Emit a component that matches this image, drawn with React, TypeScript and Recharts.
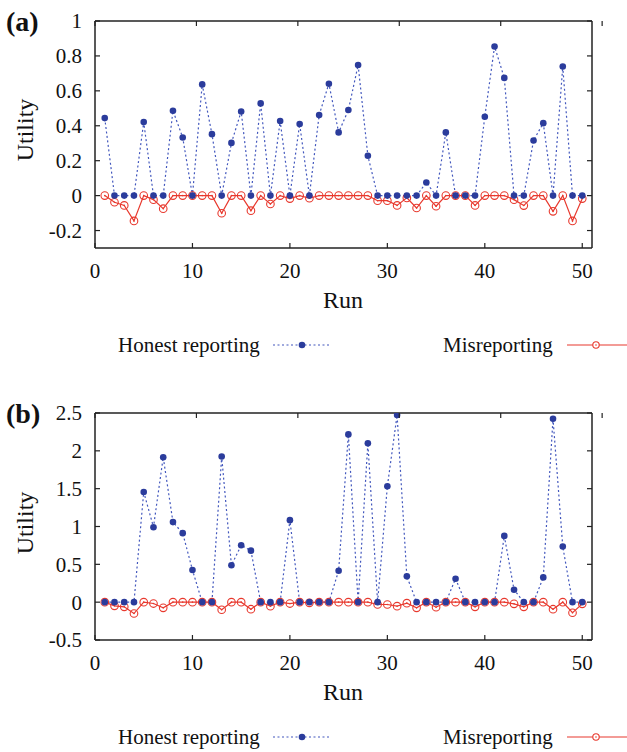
import { LineChart, Line, XAxis, YAxis } from 'recharts'

const runs = Array.from({ length: 50 }, (_, i) => i + 1)

const honestA = [
  0.444, 0, 0, 0, 0.421, 0, 0, 0.486, 0.333, 0, 0.637, 0.352, 0, 0.302, 0.482, 0,
  0.528, 0, 0.427, 0, 0.41, 0, 0.461, 0.641, 0.362, 0.49, 0.748, 0.228, 0, 0, 0,
  0, 0, 0.075, 0, 0.362, 0, 0, 0, 0.452, 0.854, 0.674, 0, 0, 0.316, 0.415, 0,
  0.739, 0, 0,
]
const misA = [
  0, -0.038, -0.056, -0.145, 0, -0.023, -0.075, 0, 0, 0, 0, 0, -0.101, 0, 0,
  -0.086, 0, -0.048, 0, -0.017, 0, -0.015, 0, 0, 0, 0, 0, 0, -0.029, -0.029,
  -0.056, -0.013, -0.071, 0, -0.061, 0, 0, 0, -0.056, 0, 0, 0, -0.023, -0.057,
  0, 0, -0.09, 0, -0.145, -0.017,
]
const honestB = [
  0, 0, 0, 0, 1.456, 0.991, 1.916, 1.058, 0.912, 0.425, 0, 0, 1.925, 0.487,
  0.752, 0.681, 0, 0, 0, 1.084, 0, 0, 0, 0, 0.416, 2.217, 0, 2.1, 0, 1.531,
  2.473, 0.341, 0, 0, 0, 0, 0.31, 0, 0, 0, 0, 0.876, 0.164, 0, 0, 0.327, 2.425,
  0.735, 0, 0,
]
const misB = [
  0, -0.049, -0.062, -0.15, 0, -0.018, -0.075, 0, 0, 0, 0, 0, -0.1, 0, 0,
  -0.093, 0, -0.053, 0, -0.018, 0, -0.009, 0, 0, 0, 0, 0, 0, -0.031, -0.031,
  -0.053, -0.013, -0.075, 0, -0.066, 0, 0, 0, -0.062, 0, 0, 0, -0.022, -0.062,
  0, 0, -0.093, 0, -0.14, -0.022,
]

const xTicks = [0, 10, 20, 30, 40, 50]
const yTicksA = [-0.2, 0, 0.2, 0.4, 0.6, 0.8, 1]
const yTicksB = [-0.5, 0, 0.5, 1, 1.5, 2, 2.5]

const FONT = '"Liberation Serif", "Times New Roman", serif'
const FRAME = '#222'
const BLUE_LINE = '#4257bd'
const BLUE_DOT = '#2b3c9c'
const RED = '#e8392e'

const W = 627
const H = 360
// each axis takes 1px, so the plot box is x 95..592, y 21..248
const M = { top: 20, left: 94, right: 34, bottom: 111 }

const BottomTick = ({ x, y, payload }: any) => (
  <g>
    <line x1={x} x2={x} y1={y} y2={y - 5} stroke={FRAME} strokeWidth={1.2} />
    <text x={x} y={y + 23} dy="0.35em" textAnchor="middle" fontFamily={FONT} fontSize={21} fill="#111">
      {payload.value}
    </text>
  </g>
)
const TopTick = ({ x, y }: any) => (
  <line x1={x} x2={x} y1={y} y2={y + 5} stroke={FRAME} strokeWidth={1.2} />
)
const LeftTick = ({ x, y, payload }: any) => (
  <g>
    <line x1={x} x2={x + 5} y1={y} y2={y} stroke={FRAME} strokeWidth={1.2} />
    <text x={x - 13} y={y} dy="0.35em" textAnchor="end" fontFamily={FONT} fontSize={21} fill="#111">
      {payload.value}
    </text>
  </g>
)
const RightTick = ({ x, y }: any) => (
  <line x1={x} x2={x - 5} y1={y} y2={y} stroke={FRAME} strokeWidth={1.2} />
)

const RedDot = ({ cx, cy }: any) => (
  <g>
    <circle cx={cx} cy={cy} r={3.8} fill="none" stroke={RED} strokeWidth={1.1} />
    <circle cx={cx} cy={cy} r={0.8} fill={RED} />
  </g>
)

function Panel({ tag, honest, mis, yDomain, yTicks, utilityY }: any) {
  const data = runs.map((run, i) => ({ run, honest: honest[i], mis: mis[i] }))
  return (
    <div style={{ position: 'relative', width: W, height: H }}>
      <LineChart width={W} height={H} data={data} margin={M}>
        <XAxis
          dataKey="run"
          type="number"
          domain={[0, 51]}
          allowDataOverflow
          ticks={xTicks}
          height={1}
          tickSize={0}
          tickMargin={0}
          tickLine={false}
          tick={<BottomTick />}
          axisLine={{ stroke: FRAME, strokeWidth: 1.5 }}
        />
        <XAxis
          xAxisId="top"
          orientation="top"
          type="number"
          domain={[0, 51]}
          allowDataOverflow
          ticks={xTicks}
          height={1}
          tickSize={0}
          tickMargin={0}
          tickLine={false}
          tick={<TopTick />}
          axisLine={{ stroke: FRAME, strokeWidth: 1.5 }}
        />
        <YAxis
          type="number"
          domain={yDomain}
          allowDataOverflow
          ticks={yTicks}
          width={1}
          tickSize={0}
          tickMargin={0}
          tickLine={false}
          tick={<LeftTick />}
          axisLine={{ stroke: FRAME, strokeWidth: 1.5 }}
        />
        <YAxis
          yAxisId="right"
          orientation="right"
          type="number"
          domain={yDomain}
          allowDataOverflow
          ticks={yTicks}
          width={1}
          tickSize={0}
          tickMargin={0}
          tickLine={false}
          tick={<RightTick />}
          axisLine={{ stroke: FRAME, strokeWidth: 1.5 }}
        />
        <Line
          type="linear"
          dataKey="mis"
          name="Misreporting"
          stroke={RED}
          strokeWidth={1.2}
          dot={<RedDot />}
          isAnimationActive={false}
        />
        <Line
          type="linear"
          dataKey="honest"
          name="Honest reporting"
          stroke={BLUE_LINE}
          strokeWidth={1.2}
          strokeDasharray="2 2.5"
          dot={{ r: 3.3, fill: BLUE_DOT, stroke: 'none' }}
          isAnimationActive={false}
        />
      </LineChart>
      <svg
        width={W}
        height={H}
        style={{ position: 'absolute', left: 0, top: 0, pointerEvents: 'none' }}
      >
        <text x={6} y={21} dy="0.35em" fontFamily={FONT} fontSize={28} fontWeight="bold" fill="#111">
          {tag}
        </text>
        <text
          x={25}
          y={utilityY}
          dy="0.35em"
          textAnchor="middle"
          transform={`rotate(-90 25 ${utilityY})`}
          fontFamily={FONT}
          fontSize={24}
          fill="#111"
        >
          Utility
        </text>
        <text x={343} y={300} dy="0.35em" textAnchor="middle" fontFamily={FONT} fontSize={24} fill="#111">
          Run
        </text>
        <text x={118} y={345} dy="0.35em" fontFamily={FONT} fontSize={21} fill="#111">
          Honest reporting
        </text>
        <line x1={273} x2={330} y1={345} y2={345} stroke={BLUE_LINE} strokeWidth={1.2} strokeDasharray="2 2.5" />
        <circle cx={302} cy={345} r={3.3} fill={BLUE_DOT} />
        <text x={443} y={345} dy="0.35em" fontFamily={FONT} fontSize={21} fill="#111">
          Misreporting
        </text>
        <line x1={567} x2={627} y1={345} y2={345} stroke={RED} strokeWidth={1.2} />
        <circle cx={596} cy={345} r={3.2} fill="#fff" stroke={RED} strokeWidth={1.1} />
        <circle cx={596} cy={345} r={0.8} fill={RED} />
      </svg>
    </div>
  )
}

export default function App() {
  return (
    <div style={{ position: 'absolute', left: 0, top: 0, width: W, height: 752, background: '#fff', overflow: 'hidden' }}>
      <div style={{ position: 'absolute', left: 0, top: 0 }}>
        <Panel tag="(a)" honest={honestA} mis={misA} yDomain={[-0.3, 1]} yTicks={yTicksA} utilityY={130} />
      </div>
      <div style={{ position: 'absolute', left: 0, top: 392 }}>
        <Panel tag="(b)" honest={honestB} mis={misB} yDomain={[-0.5, 2.5]} yTicks={yTicksB} utilityY={131} />
      </div>
    </div>
  )
}
